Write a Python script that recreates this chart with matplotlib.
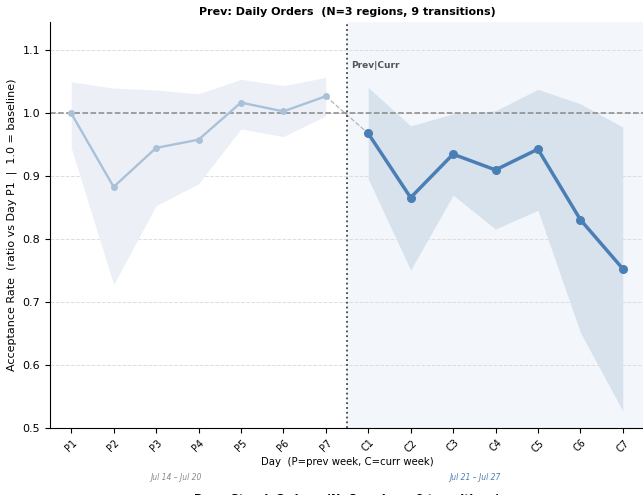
import numpy as np
import matplotlib
matplotlib.use("Agg")
import matplotlib.pyplot as plt

# Day labels and values
days = ["P1", "P2", "P3", "P4", "P5", "P6", "P7",
        "C1", "C2", "C3", "C4", "C5", "C6", "C7"]

prev_mean = [1.000, 0.883, 0.945, 0.958, 1.017, 1.003, 1.027]
prev_hi = [1.050, 1.040, 1.037, 1.031, 1.054, 1.044, 1.057]
prev_lo = [0.945, 0.728, 0.853, 0.888, 0.975, 0.963, 0.996]

curr_mean = [0.968, 0.866, 0.935, 0.910, 0.943, 0.831, 0.753]
curr_hi = [1.041, 0.980, 0.999, 1.004, 1.038, 1.015, 0.978]
curr_lo = [0.896, 0.751, 0.870, 0.816, 0.846, 0.652, 0.527]

prev_range = "Jul 14 \u2013 Jul 20"
curr_range = "Jul 21 \u2013 Jul 27"

x_prev = np.arange(len(prev_mean))
x_curr = np.arange(len(curr_mean)) + len(prev_mean)

fig = plt.figure(figsize=(6.43, 4.95), dpi=100)
ax = fig.add_axes([50 / 643, 1 - 428 / 495, 594 / 643, (428 - 22) / 495])

split = len(prev_mean) - 0.5
# current week background
ax.axvspan(split, len(days) - 0.5, color="#f3f6fa", zorder=0, lw=0)

# bands
ax.fill_between(x_prev, prev_lo, prev_hi, color="#ecf0f6", lw=0, zorder=1)
ax.fill_between(x_curr, curr_lo, curr_hi, color="#d8e2ed", lw=0, zorder=1)

# lines
ax.plot(x_prev, prev_mean, color="#a9c2da", lw=1.7, marker="o", ms=4, zorder=3)
ax.plot(x_curr, curr_mean, color="#4a7fb5", lw=2.5, marker="o", ms=5.5, zorder=3)
ax.plot([x_prev[-1], x_curr[0]], [prev_mean[-1], curr_mean[0]],
        color="#b5b5b5", lw=0.9, ls="--", zorder=2)

# baseline and split marker
ax.axhline(1.0, color="#888888", lw=1.1, ls="--", zorder=2)
ax.axvline(split, color="#444444", lw=1.3, ls=":", zorder=2)
ax.text(split + 0.1, 1.076, "Prev|Curr", fontsize=6.5, fontweight="bold",
        color="#555555", ha="left", va="center")

ax.set_xlim(-0.5, len(days) - 0.5)
ax.set_ylim(0.5, 1.145)
ax.set_yticks(np.arange(0.5, 1.11, 0.1))
ax.set_xticks(np.arange(len(days)))
ax.set_xticklabels(days, rotation=45, fontsize=7)
ax.tick_params(axis="y", labelsize=8)
ax.grid(axis="y", ls="--", color="#dddddd", lw=0.7, zorder=0)
ax.set_axisbelow(True)
for s in ["top", "right"]:
    ax.spines[s].set_visible(False)

ax.set_title("Prev: Daily Orders  (N=3 regions, 9 transitions)",
             fontsize=8, fontweight="bold", pad=5)
ax.set_ylabel("Acceptance Rate  (ratio vs Day P1  |  1.0 = baseline)", fontsize=8)
ax.set_xlabel("Day  (P=prev week, C=curr week)", fontsize=7.3, labelpad=2)

# week ranges under the axis
fig.text(176 / 643, 1 - 478 / 495, prev_range, fontsize=5.5, style="italic",
         color="#8a8a8a", ha="center", va="center")
fig.text(475 / 643, 1 - 478 / 495, curr_range, fontsize=5.5, style="italic",
         color="#4a7fb5", ha="center", va="center")

# title of the next panel, cut at the bottom edge
fig.text(347 / 643, 1 - 499 / 495, "Prev: Streak Orders  (N=3 regions, 9 transitions)",
         fontsize=8, fontweight="bold", ha="center", va="center")

fig.savefig("out.png", dpi=100)
